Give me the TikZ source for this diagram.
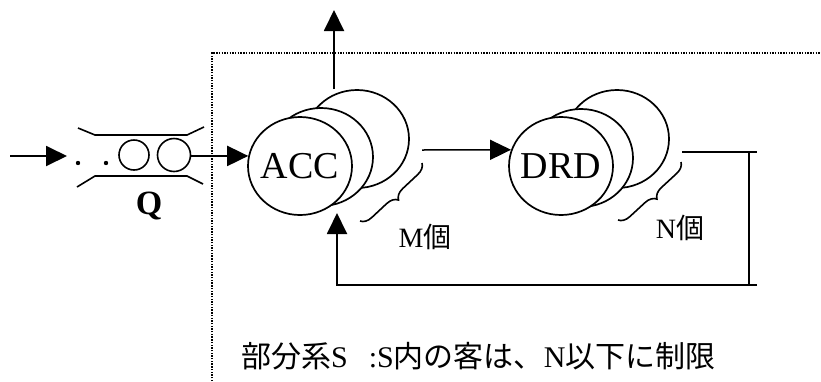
\documentclass[tikz,border=0pt]{standalone}
\usepackage{fontspec}
\setmainfont{Liberation Serif}
\newfontfamily\cjk{Noto Sans CJK JP}
\usetikzlibrary{arrows.meta,decorations.pathreplacing,calc,shapes.geometric}
\begin{document}
\begin{tikzpicture}[x=1pt,y=-1pt,
  ell/.style={ellipse,draw,line width=1.7pt,fill=white,minimum width=104pt,minimum height=98pt,inner xsep=-4pt,inner ysep=0pt},
  arr/.style={line width=1.9pt,-{Triangle[length=21pt,width=20pt]}},
  ln/.style={line width=1.6pt},
  brc/.style={decorate,decoration={brace,amplitude=11pt},line width=1.6pt},
  qc/.style={circle,draw,line width=1.6pt,inner sep=0pt},
  lbl/.style={font=\fontsize{38}{42}\selectfont},
  jlbl/.style={font=\fontsize{28}{30}\selectfont}
]
\useasboundingbox (0,0) rectangle (821,381);
% dotted subsystem frame
\draw[line width=1.4pt,dash pattern=on 1.4pt off 1.3pt] (212,381) -- (212,53) -- (821,53);
% ACC stack
\node[ell] (accb) at (357,139) {};
\node[ell] (accm) at (321,157) {};
\node[ell,lbl] (acc) at (300,166) {ACC};
% DRD stack
\node[ell] (drdb) at (617,139) {};
\node[ell] (drdm) at (581,158) {};
\node[ell,lbl] (drd) at (561,166) {DRD};
% queue
\node[qc,minimum size=30pt] (q1) at (134,155) {};
\node[qc,minimum size=33pt] (q2) at (174,155) {};
\fill (78,163) circle (2.2pt);
\fill (106,163) circle (2.2pt);
\draw[ln] (78,128) -- (95,135) -- (187,135) -- (204,127);
\draw[ln] (77,187) -- (95,176) -- (187,176) -- (203,184);
\node[font=\bfseries\fontsize{34}{36}\selectfont] (ql) at (149,206) {Q};
% input arrow
\coordinate (in0) at (10,156);
\coordinate (in1) at (67,156);
\draw[arr] (in0) -- (in1);
% queue to ACC
\draw[arr] (q2.east |- acc.169) -- (acc.169);
% output arrow
\coordinate (up) at (334,10);
\draw[arr] (accb.north -| up) -- (up);
% ACC to DRD
\coordinate (a2) at (422,150);
\draw[arr,line width=1.5pt] (a2) -- (drd.162);
% feedback loop
\coordinate (d1) at (682,152);
\coordinate (d2) at (757,152);
\coordinate (r1) at (749,152);
\coordinate (r2) at (749,285);
\coordinate (r3) at (757,285);
\coordinate (b1) at (337,285);
\coordinate (b2) at (337,213);
\draw[ln] (d1) -- (d2);
\draw[ln] (r1) -- (r2);
\draw[arr] (r3) -- (b1) -- (b2);
% braces
\coordinate (m1) at (422,163);
\coordinate (m2) at (360,221);
\draw[brc] (m1) -- (m2);
\coordinate (n1) at (681,162);
\coordinate (n2) at (618,220);
\draw[brc] (n1) -- (n2);
% labels
\node[jlbl] (ml) at (425,237) {M{\cjk 個}};
\node[jlbl] (nl) at (680,228) {N{\cjk 個}};
\node[anchor=west,inner sep=0pt,font=\fontsize{30}{32}\selectfont] (st) at (241,356)
  {{\cjk 部分系}S\hspace{0.7em}:S{\cjk 内の客は、}N{\cjk 以下に制限}};
\end{tikzpicture}
\end{document}
